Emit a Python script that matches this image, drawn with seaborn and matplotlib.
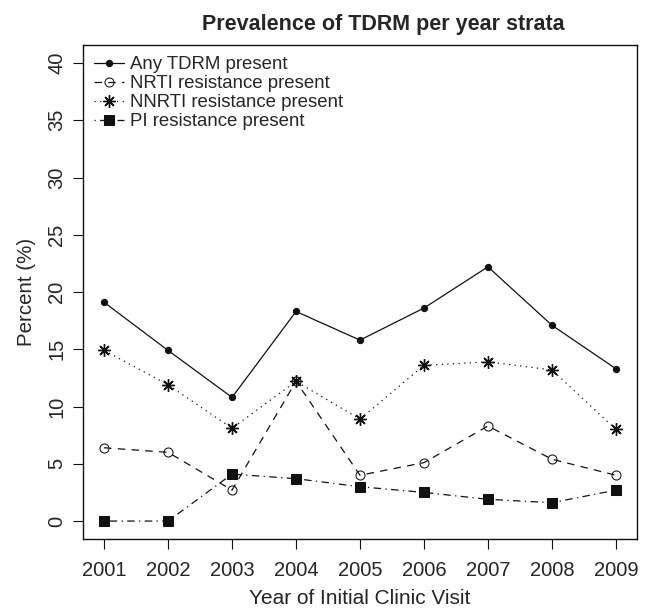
import pandas as pd
import matplotlib
matplotlib.use("Agg")
import matplotlib.pyplot as plt
import seaborn as sns

# R-like plain look
sns.set_style("ticks")
plt.rcParams['font.family'] = ['Liberation Sans', 'DejaVu Sans']

years = [2001, 2002, 2003, 2004, 2005, 2006, 2007, 2008, 2009]
any_tdrm = [19.1, 14.9, 10.8, 18.3, 15.8, 18.6, 22.2, 17.1, 13.3]
nrti = [6.4, 6.0, 2.7, 12.2, 4.0, 5.1, 8.3, 5.4, 4.0]
nnrti = [14.9, 11.9, 8.1, 12.2, 8.9, 13.6, 13.9, 13.2, 8.0]
pi = [0.0, 0.0, 4.1, 3.7, 3.0, 2.5, 1.9, 1.6, 2.7]

labels = ["Any TDRM present", "NRTI resistance present",
          "NNRTI resistance present", "PI resistance present"]
series = [any_tdrm, nrti, nnrti, pi]

# line / marker style for each series
styles = [
    dict(linestyle="-", marker="o", markersize=4.5, markerfacecolor="#111111"),
    dict(linestyle=(0, (6, 5)), marker="o", markersize=6.5, markerfacecolor="none"),
    dict(linestyle=(0, (1, 3.5)), marker=(8, 2, 0), markersize=9, markeredgewidth=1.0),
    dict(linestyle=(0, (1, 3.5, 6, 3.5)), marker="s", markersize=6.5, markerfacecolor="#111111"),
]

fig = plt.figure(figsize=(6.55, 6.14), dpi=100)
ax = fig.add_axes([0.1267, 0.1221, 0.8458, 0.8046])

for lab, vals, st in zip(labels, series, styles):
    df = pd.DataFrame({"year": years, "pct": vals})
    sns.lineplot(data=df, x="year", y="pct", ax=ax, color="#111111",
                 linewidth=0.9, markeredgecolor="#111111", label=lab, **st)

ax.set_xlim(2001 - 0.33, 2009 + 0.33)
ax.set_ylim(-1.57, 41.57)
ax.set_xticks(years)
ax.set_xticklabels([str(y) for y in years])
ax.set_yticks(range(0, 41, 5))
ax.set_yticklabels([str(v) for v in range(0, 41, 5)], rotation=90, va="center")
ax.tick_params(axis="both", labelsize=14.5, length=7, width=0.8, color="#111111",
               direction="out")
ax.tick_params(axis="x", pad=8.5)
ax.tick_params(axis="y", pad=5)
for s in ax.spines.values():
    s.set_linewidth(1.0)
    s.set_color("#111111")

ax.set_xlabel("Year of Initial Clinic Visit", fontsize=15, labelpad=7)
ax.set_ylabel("Percent (%)", fontsize=14.8, labelpad=8)
ax.set_title("Prevalence of TDRM per year strata", fontsize=15.5,
             fontweight="bold", pad=10.5, x=0.543)

ax.legend(loc="upper left", frameon=False, fontsize=13.4, handlelength=1.6,
          handletextpad=0.32, labelspacing=0.11, borderaxespad=0.25,
          borderpad=0.35)

fig.savefig("out.png", dpi=100)
